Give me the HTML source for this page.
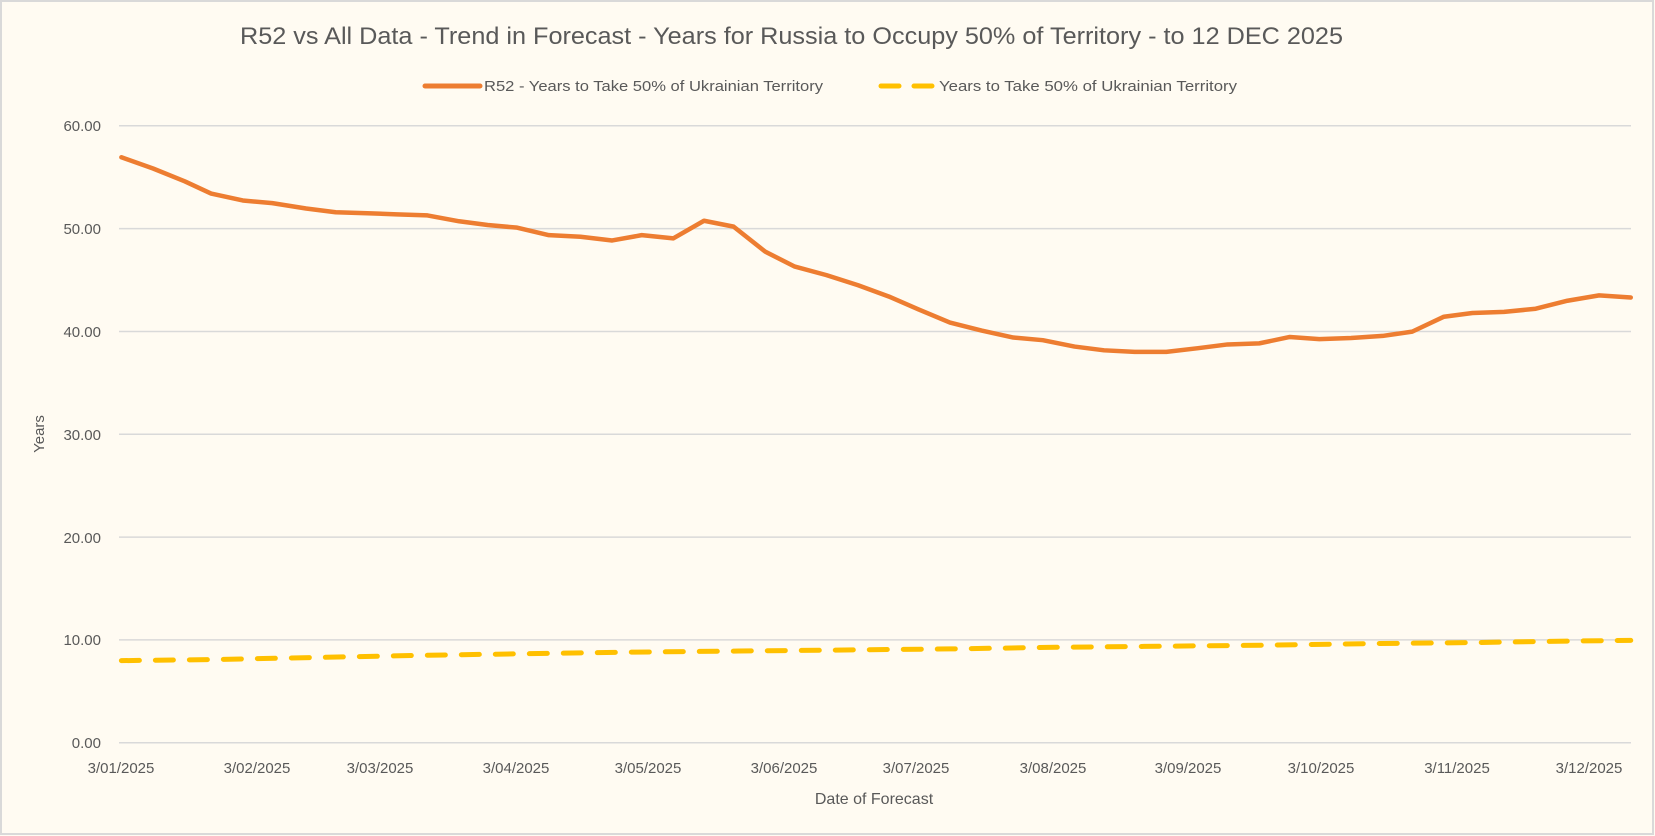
<!DOCTYPE html>
<html><head><meta charset="utf-8"><style>
html,body{margin:0;padding:0;background:#fffbf2;}
svg{display:block;font-family:"Liberation Sans",sans-serif;}
</style></head><body>
<svg width="1655" height="836" viewBox="0 0 1655 836">
<rect x="1" y="1" width="1652" height="833" fill="#fffbf2" stroke="#d9d9d9" stroke-width="2"/>
<text x="240" y="44" font-size="24" fill="#595959" textLength="1103" lengthAdjust="spacingAndGlyphs">R52 vs All Data  - Trend in Forecast - Years for Russia to Occupy 50% of Territory - to 12 DEC 2025</text>
<line x1="425" y1="86" x2="480" y2="86" stroke="#ed7d31" stroke-width="5" stroke-linecap="round"/>
<text x="484" y="91" font-size="15" fill="#595959" textLength="339" lengthAdjust="spacingAndGlyphs">R52 - Years to Take  50% of Ukrainian Territory</text>
<line x1="881" y1="86" x2="934" y2="86" stroke="#ffc000" stroke-width="5" stroke-dasharray="18 15" stroke-linecap="round"/>
<text x="939" y="91" font-size="15" fill="#595959" textLength="298" lengthAdjust="spacingAndGlyphs">Years to Take  50% of Ukrainian Territory</text>
<g stroke="#d9d9d9" stroke-width="1.5">
<line x1="119" y1="125.8" x2="1631" y2="125.8"/>
<line x1="119" y1="228.6" x2="1631" y2="228.6"/>
<line x1="119" y1="331.5" x2="1631" y2="331.5"/>
<line x1="119" y1="434.3" x2="1631" y2="434.3"/>
<line x1="119" y1="537.1" x2="1631" y2="537.1"/>
<line x1="119" y1="639.9" x2="1631" y2="639.9"/>
<line x1="119" y1="742.7" x2="1631" y2="742.7"/>
</g>
<g font-size="15" fill="#595959" text-anchor="end">
<text x="101" y="131">60.00</text><text x="101" y="234">50.00</text><text x="101" y="337">40.00</text>
<text x="101" y="440">30.00</text><text x="101" y="543">20.00</text><text x="101" y="645">10.00</text><text x="101" y="748">0.00</text>
</g>
<g font-size="15" fill="#595959" text-anchor="middle">
<text x="121" y="773">3/01/2025</text><text x="257" y="773">3/02/2025</text><text x="380" y="773">3/03/2025</text>
<text x="516" y="773">3/04/2025</text><text x="648" y="773">3/05/2025</text><text x="784" y="773">3/06/2025</text>
<text x="916" y="773">3/07/2025</text><text x="1053" y="773">3/08/2025</text><text x="1188" y="773">3/09/2025</text>
<text x="1321" y="773">3/10/2025</text><text x="1457" y="773">3/11/2025</text><text x="1589" y="773">3/12/2025</text>
</g>
<text x="874" y="804" font-size="16" fill="#595959" text-anchor="middle">Date of Forecast</text>
<text transform="translate(44,434) rotate(-90)" font-size="15" fill="#595959" text-anchor="middle">Years</text>
<g transform="scale(1.0555,0.5332)">
<polyline fill="none" stroke="#ed7d31" stroke-width="4.5" stroke-linejoin="round" stroke-linecap="round" vector-effect="non-scaling-stroke"
points="115,295 145,316 175,340 200,363 230,376 258,381 290,391 318,398 348,400 376,402 405,404 435,415 462,422 490,427 520,441 550,444 580,451 608,441 638,447 667,414 695,425 725,472 753,500 783,516 813,535 842,556 870,580 900,605 930,620 960,633 988,638 1018,650 1046,657 1075,660 1105,660 1135,653 1163,646 1193,644 1222,632 1250,636 1280,634 1310,630 1338,622 1368,594 1395,587 1425,585 1455,579 1485,564 1515,554 1545,558"/>
<polyline fill="none" stroke="#ffc000" stroke-width="5" stroke-linecap="round" stroke-dasharray="18 16" vector-effect="non-scaling-stroke"
points="115,1239 200,1237 300,1233 400,1229 500,1226 600,1223 700,1221 800,1219 900,1217 1000,1214 1100,1212 1200,1210 1300,1207 1400,1205 1500,1202 1545,1201"/>
</g>
</svg>
</body></html>
